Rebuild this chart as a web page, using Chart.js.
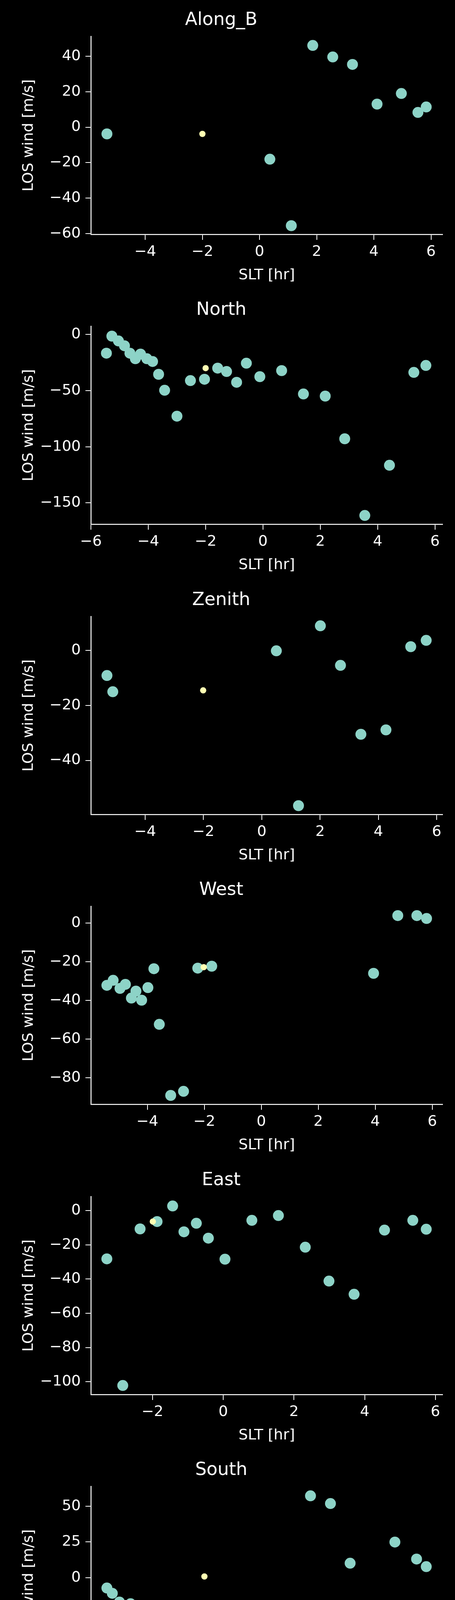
<!DOCTYPE html>
<html><head><meta charset="utf-8">
<script src="https://cdn.jsdelivr.net/npm/chart.js@4/dist/chart.umd.min.js"></script>
<style>
html,body{margin:0;padding:0;background:#000;width:1166px;height:4472px;overflow:hidden;}
.p{position:absolute;left:0;width:1166px;height:745px;}
</style></head><body>
<script>
const titles = ["Along_B","North","Zenith","West","East","South"];

const alongB_x = [-5.34,0.36,1.11,1.86,2.56,3.25,4.11,4.96,5.54,5.83];
const alongB_y = [-3.8,-18.1,-55.6,46.1,39.6,35.4,13.0,19.0,8.3,11.4];
const alongB_ref = [[-2.0,-3.8]];
const alongB_xr = [-5.9,6.4], alongB_yr = [-60.5,51.2];
const alongB_xt = [-4,-2,0,2,4,6], alongB_yt = [-60,-40,-20,0,20,40];

const north_x = [-5.46,-5.27,-5.04,-4.83,-4.64,-4.45,-4.27,-4.05,-3.85,-3.64,-3.43,-3.0,-2.53,-2.04,-1.58,-1.27,-0.92,-0.58,-0.11,0.65,1.41,2.17,2.85,3.55,4.41,5.26,5.68];
const north_y = [-16.7,-1.5,-5.8,-10.1,-16.7,-21.6,-17.5,-21.6,-24.1,-35.5,-49.7,-72.8,-41.1,-39.9,-30.0,-33.0,-42.6,-25.6,-37.6,-32.2,-53.0,-54.9,-92.9,-161.2,-116.5,-33.8,-27.6];
const north_ref = [[-2.0,-30.0]];
const north_xr = [-6.0,6.26], north_yr = [-169,7.3];
const north_xt = [-6,-4,-2,0,2,4,6], north_yt = [-150,-100,-50,0];

const zenith_x = [-5.31,-5.11,0.50,1.26,2.01,2.70,3.40,4.26,5.11,5.64];
const zenith_y = [-9.1,-15.0,-0.1,-56.5,9.0,-5.4,-30.5,-28.9,1.4,3.7];
const zenith_ref = [[-2.01,-14.5]];
const zenith_xr = [-5.86,6.2], zenith_yr = [-59.7,12.4];
const zenith_xt = [-4,-2,0,2,4,6], zenith_yt = [-40,-20,0];

const west_x = [-5.42,-5.2,-4.96,-4.77,-4.56,-4.40,-4.20,-3.98,-3.77,-3.58,-3.18,-2.73,-2.23,-1.74,3.94,4.79,5.46,5.80];
const west_y = [-32.2,-29.6,-33.8,-31.7,-38.8,-35.2,-39.9,-33.4,-23.6,-52.4,-89.2,-87.1,-23.3,-22.3,-26.0,3.9,3.9,2.4];
const west_ref = [[-2.02,-22.8]];
const west_xr = [-5.98,6.36], west_yr = [-93.8,8.7];
const west_xt = [-4,-2,0,2,4,6], west_yt = [-80,-60,-40,-20,0];

const east_x = [-3.29,-2.84,-2.35,-1.87,-1.43,-1.11,-0.76,-0.42,0.05,0.81,1.56,2.32,2.99,3.70,4.56,5.36,5.74];
const east_y = [-28.2,-102.2,-10.7,-6.4,2.7,-12.4,-7.4,-16.1,-28.4,-5.7,-2.9,-21.4,-41.2,-48.9,-11.4,-5.7,-10.9];
const east_ref = [[-1.99,-6.4]];
const east_xr = [-3.74,6.2], east_yr = [-107.5,8.2];
const east_xt = [-2,0,2,4,6], east_yt = [-100,-80,-60,-40,-20,0];

const south_x = [-5.42,-5.23,-4.98,-4.77,-4.59,-0.30,0.19,0.94,1.72,2.42,3.11,3.81,4.68,5.44,5.78];
const south_y = [-7.3,-11.0,-17.1,-19.6,-18.3,-24.0,-68.3,-38.1,57.3,51.9,10.1,-47.8,24.9,13.0,7.7];
const south_ref = [[-2.0,0.8]];
const south_xr = [-5.98,6.35], south_yr = [-74.8,63.9];
const south_xt = [-4,-2,0,2,4,6], south_yt = [-50,-25,0,25,50];

const panels = [
 [alongB_x,alongB_y,alongB_ref,alongB_xr,alongB_yr,alongB_xt,alongB_yt],
 [north_x,north_y,north_ref,north_xr,north_yr,north_xt,north_yt],
 [zenith_x,zenith_y,zenith_ref,zenith_xr,zenith_yr,zenith_xt,zenith_yt],
 [west_x,west_y,west_ref,west_xr,west_yr,west_xt,west_yt],
 [east_x,east_y,east_ref,east_xr,east_yr,east_xt,east_yt],
 [south_x,south_y,south_ref,south_xr,south_yr,south_xt,south_yt]
];

const FONT = "'DejaVu Sans', sans-serif";
const fmt = v => v < 0 ? '\u2212' + Math.abs(v) : String(v);
const bg = {id:'bg', beforeDraw(c){const x=c.ctx;x.save();x.fillStyle='#000';x.fillRect(0,0,c.width,c.height);x.restore();}};

panels.forEach((p,i) => {
  const [xs,ys,ref,xr,yr,xt,yt] = p;
  const d = document.createElement('div');
  d.className='p'; d.style.top = (i*742.4)+'px';
  const cv = document.createElement('canvas');
  cv.width=1166; cv.height=745;
  d.appendChild(cv); document.body.appendChild(d);
  new Chart(cv, {
    type:'scatter',
    data:{datasets:[
      {data:ref.map(r=>({x:r[0],y:r[1]})), backgroundColor:'#ffffb3', borderWidth:0, pointRadius:8, pointHoverRadius:8},
      {data:xs.map((x,k)=>({x:x,y:ys[k]})), backgroundColor:'#8dd3c7', borderWidth:0, pointRadius:14, pointHoverRadius:14}
    ]},
    options:{
      responsive:false, animation:false, devicePixelRatio:1,
      layout:{padding:{left:0,right:32,top:0,bottom:0}},
      plugins:{legend:{display:false}, tooltip:{enabled:false},
        title:{display:true,text:titles[i],color:'#fff',font:{family:FONT,size:46,weight:'normal'},padding:{top:24,bottom:14}}},
      scales:{
        x:{type:'linear',min:xr[0],max:xr[1],
          afterBuildTicks:a=>{a.ticks=xt.map(v=>({value:v}));},
          afterFit:a=>{a.height=145;},
          grid:{drawOnChartArea:false,drawTicks:true,tickLength:14,color:'#fff',lineWidth:2},
          border:{display:true,color:'#fff',width:2.5},
          ticks:{color:'#fff',font:{family:FONT,size:38},padding:8,callback:fmt,maxRotation:0,autoSkip:false},
          title:{display:true,text:'SLT [hr]',color:'#fff',font:{family:FONT,size:38},padding:{top:17,bottom:17}}},
        y:{type:'linear',min:yr[0],max:yr[1],
          afterBuildTicks:a=>{a.ticks=yt.map(v=>({value:v}));},
          afterFit:a=>{a.width=233;},
          grid:{drawOnChartArea:false,drawTicks:true,tickLength:14,color:'#fff',lineWidth:2},
          border:{display:true,color:'#fff',width:2.5},
          ticks:{color:'#fff',font:{family:FONT,size:38},padding:12,callback:fmt,autoSkip:false},
          title:{display:true,text:'LOS wind [m/s]',color:'#fff',font:{family:FONT,size:38},padding:{top:51,bottom:51}}}
      }
    },
    plugins:[bg]
  });
});
</script>
</body></html>
